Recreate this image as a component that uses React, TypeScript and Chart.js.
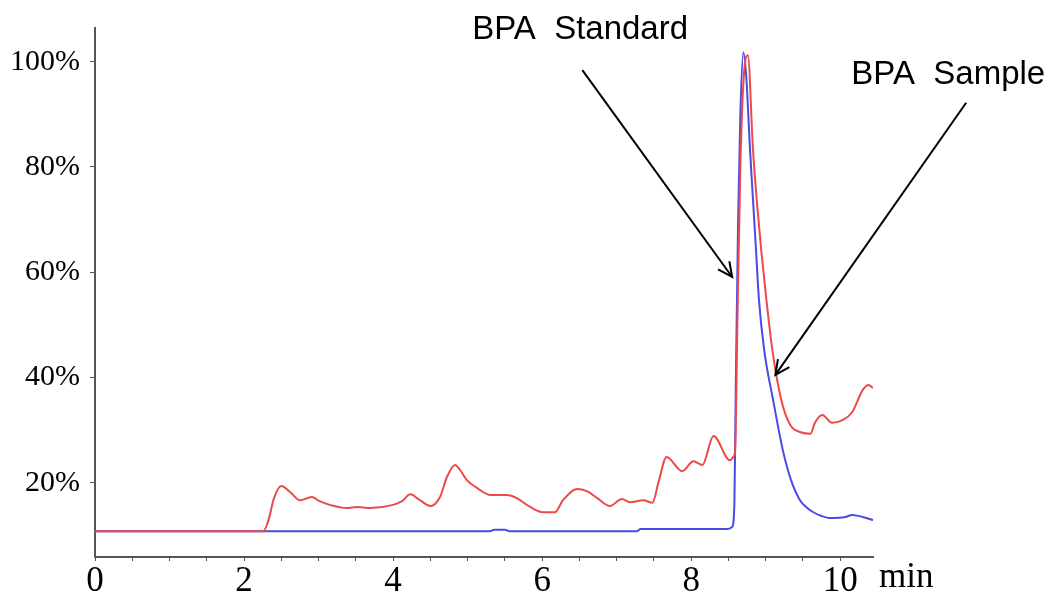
import React, { useEffect, useRef } from "react";
import { Chart, registerables } from "chart.js";

Chart.register(...registerables);

// Retention time (min) and relative intensity (%) — BPA Standard (blue)
const standardTimes = [0, 2.3, 5.3, 5.36, 5.5, 5.56, 7.27, 7.32, 8.48, 8.55, 8.58, 8.6, 8.63, 8.66, 8.7, 8.74, 8.79, 8.83, 8.87, 8.91, 8.98, 9.1, 9.23, 9.34, 9.46, 9.55, 9.64, 9.75, 9.86, 10.07, 10.16, 10.3, 10.44];
const standardValues = [10.8, 10.8, 10.8, 11.1, 11.1, 10.8, 10.8, 11.2, 11.2, 11.6, 16, 40, 70, 90, 101.8, 97, 83.2, 73.7, 64.2, 54.7, 45.2, 35.7, 26.2, 20.5, 16.7, 15.3, 14.4, 13.7, 13.3, 13.5, 13.9, 13.5, 12.9];

// BPA Sample (red)
const sampleTimes = [0, 2.26, 2.33, 2.4, 2.5, 2.62, 2.75, 2.91, 3.0, 3.15, 3.38, 3.52, 3.69, 4.0, 4.12, 4.23, 4.35, 4.5, 4.63, 4.72, 4.83, 4.92, 4.99, 5.13, 5.3, 5.53, 5.66, 5.84, 6.01, 6.17, 6.28, 6.47, 6.6, 6.74, 6.91, 7.07, 7.18, 7.36, 7.48, 7.56, 7.67, 7.88, 8.03, 8.15, 8.3, 8.52, 8.57, 8.59, 8.62, 8.66, 8.71, 8.76, 8.83, 8.88, 8.94, 9.01, 9.09, 9.21, 9.33, 9.47, 9.6, 9.66, 9.76, 9.89, 10.03, 10.16, 10.3, 10.38, 10.44];
const sampleValues = [10.8, 10.8, 13, 17, 19.4, 18.2, 16.7, 17.3, 16.6, 15.8, 15.2, 15.4, 15.2, 15.8, 16.5, 17.8, 16.8, 15.6, 17.3, 21, 23.4, 22, 20.5, 19, 17.7, 17.7, 17.1, 15.4, 14.4, 14.4, 16.7, 18.8, 18.4, 17.1, 15.6, 16.9, 16.3, 16.7, 16.2, 20, 24.9, 22.2, 24.1, 23.4, 28.9, 24.3, 25, 26.2, 50, 80, 98, 101.2, 83.2, 73.7, 64.2, 54.7, 45.2, 35.7, 31.0, 29.6, 29.3, 31.4, 32.9, 31.4, 31.9, 33.4, 37.6, 38.6, 38];

const yTickValues = [20, 40, 60, 80, 100];
const xTickValues = [0, 0.5, 1, 1.5, 2, 2.5, 3, 3.5, 4, 4.5, 5, 5.5, 6, 6.5, 7, 7.5, 8, 8.5, 9, 9.5, 10];
const xLabelValues = [0, 2, 4, 6, 8, 10];
const xUnitLabel = "min";

const annotationLabels = ["BPA  Standard", "BPA  Sample"];
// label anchor and arrow (from -> to) in data units
const annotationTextX = [6.51, 11.45];
const annotationTextY = [106.0, 97.5];
const arrowFromX = [6.54, 11.69];
const arrowFromY = [98.4, 92.2];
const arrowToX = [8.55, 9.13];
const arrowToY = [59.1, 40.5];

const annotationPlugin = {
  id: "bpaAnnotations",
  afterDraw(chart: any) {
    const { ctx, scales } = chart;
    const xs = scales.x;
    const ys = scales.y;
    ctx.save();
    ctx.fillStyle = "#000";
    ctx.strokeStyle = "#000";
    ctx.lineWidth = 2;
    ctx.font = '33px "Liberation Sans", Arial, sans-serif';
    ctx.textAlign = "center";
    ctx.textBaseline = "middle";
    for (let i = 0; i < annotationLabels.length; i++) {
      ctx.fillText(annotationLabels[i], xs.getPixelForValue(annotationTextX[i]), ys.getPixelForValue(annotationTextY[i]));
      const x1 = xs.getPixelForValue(arrowFromX[i]);
      const y1 = ys.getPixelForValue(arrowFromY[i]);
      const x2 = xs.getPixelForValue(arrowToX[i]);
      const y2 = ys.getPixelForValue(arrowToY[i]);
      ctx.beginPath();
      ctx.moveTo(x1, y1);
      ctx.lineTo(x2, y2);
      ctx.stroke();
      const ang = Math.atan2(y2 - y1, x2 - x1);
      const head = 16;
      const spread = 0.45;
      ctx.beginPath();
      ctx.moveTo(x2 - head * Math.cos(ang - spread), y2 - head * Math.sin(ang - spread));
      ctx.lineTo(x2, y2);
      ctx.lineTo(x2 - head * Math.cos(ang + spread), y2 - head * Math.sin(ang + spread));
      ctx.stroke();
    }
    // unit label
    ctx.font = '35px "Liberation Serif", "Times New Roman", serif';
    ctx.textAlign = "left";
    ctx.textBaseline = "top";
    ctx.fillText(xUnitLabel, xs.right + 6, chart.chartArea.bottom + 3);
    ctx.restore();
  },
};

export default function App() {
  const canvasRef = useRef<HTMLCanvasElement | null>(null);

  useEffect(() => {
    if (!canvasRef.current) return;
    const chart = new Chart(canvasRef.current, {
      type: "line",
      data: {
        datasets: [
          {
            label: "BPA Sample",
            data: sampleTimes.map((t, i) => ({ x: t, y: sampleValues[i] })),
            borderColor: "#ec4a4a",
            borderWidth: 2,
            pointRadius: 0,
            cubicInterpolationMode: "monotone",
            fill: false,
          },
          {
            label: "BPA Standard",
            data: standardTimes.map((t, i) => ({ x: t, y: standardValues[i] })),
            borderColor: "#4a4ae6",
            borderWidth: 2,
            pointRadius: 0,
            cubicInterpolationMode: "monotone",
            fill: false,
          },
        ],
      },
      options: {
        animation: false,
        responsive: false,
        devicePixelRatio: 1,
        layout: { padding: { top: 28, right: 180, left: 0, bottom: 0 } },
        plugins: {
          legend: { display: false },
          tooltip: { enabled: false },
        },
        scales: {
          x: {
            type: "linear",
            min: 0,
            max: 10.44,
            afterFit: (s: any) => {
              s.height = 42;
            },
            afterBuildTicks: (s: any) => {
              s.ticks = xTickValues.map((v) => ({ value: v }));
            },
            border: { color: "#555", width: 2 },
            grid: { display: true, drawOnChartArea: false, drawTicks: true, tickLength: 4, color: "#555" },
            ticks: {
              autoSkip: false,
              maxRotation: 0,
              padding: 0,
              color: "#000",
              font: { family: '"Liberation Serif", "Times New Roman", serif', size: 35 },
              callback: (v: any) => (xLabelValues.includes(Number(v)) ? String(v) : ""),
            },
          },
          y: {
            type: "linear",
            min: 5.9,
            max: 106.4,
            afterFit: (s: any) => {
              s.width = 95;
            },
            afterBuildTicks: (s: any) => {
              s.ticks = yTickValues.map((v) => ({ value: v }));
            },
            border: { color: "#555", width: 2 },
            grid: { display: true, drawOnChartArea: false, drawTicks: true, tickLength: 5, color: "#555" },
            ticks: {
              padding: 10,
              color: "#000",
              font: { family: '"Liberation Serif", "Times New Roman", serif', size: 30 },
              callback: (v: any) => `${v}%`,
            },
          },
        },
      },
      plugins: [annotationPlugin],
    });
    return () => chart.destroy();
  }, []);

  return (
    <div style={{ position: "absolute", left: 0, top: 0, width: 1053, height: 599, background: "#fff" }}>
      <canvas ref={canvasRef} width={1053} height={599} style={{ display: "block" }} />
    </div>
  );
}
